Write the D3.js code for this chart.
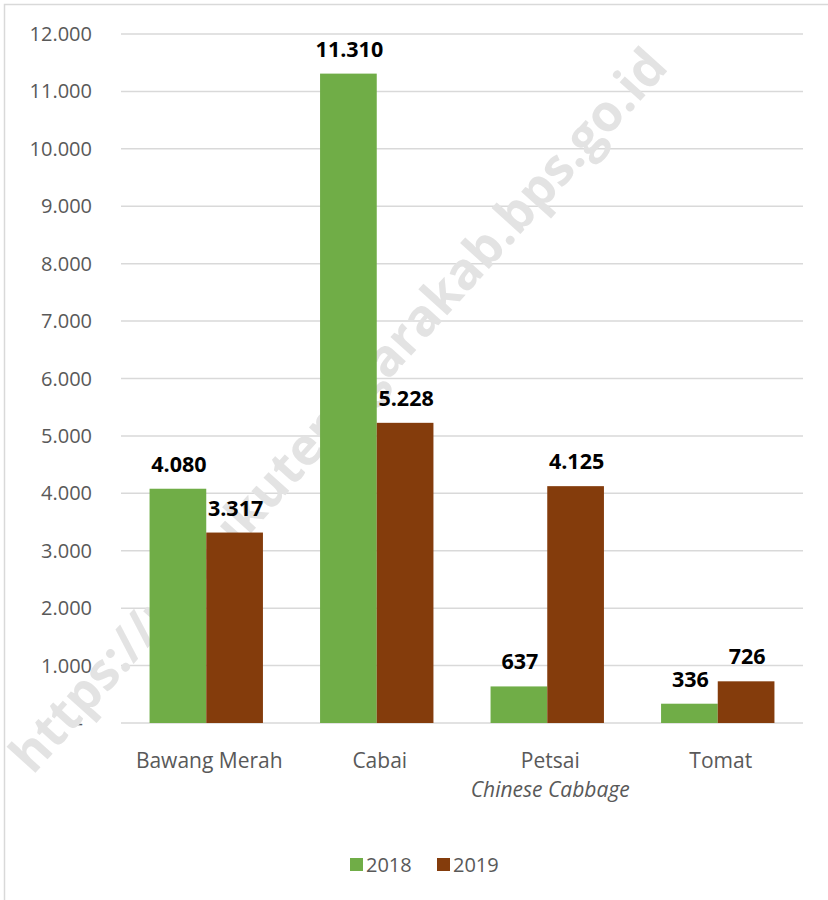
<!DOCTYPE html>
<html lang="en">
<head>
  <meta charset="UTF-8">
  <title>Produksi Sayuran 2018-2019</title>
  <style>
    body { margin: 0; background: #fff; }
    #chart { width: 828px; height: 900px; }
    text { font-family: "Open Sans", "Noto Sans", sans-serif; }
  </style>
  <script src="https://d3js.org/d3.v7.min.js"></script>
</head>
<body>
<div id="chart"></div>
<script>
  // Data
  var categories = ["Bawang Merah", "Cabai", "Petsai", "Tomat"];
  var subLabels = ["", "", "Chinese Cabbage", ""];
  var years = ["2018", "2019"];
  var values2018 = [4080, 11310, 637, 336];
  var values2019 = [3317, 5228, 4125, 726];
  var yTicks = [0, 1000, 2000, 3000, 4000, 5000, 6000, 7000, 8000, 9000, 10000, 11000, 12000];
  var colors = ["#70ad47", "#843c0c"];

  var width = 828, height = 900;
  var plotLeft = 121, plotRight = 803, plotTop = 34, plotBottom = 723;

  var idLocale = d3.formatLocale({decimal: ",", thousands: ".", grouping: [3], currency: ["Rp", ""]});
  var fmt = idLocale.format(",d");

  var x0 = d3.scaleBand().domain(categories).range([plotLeft, plotRight]).paddingInner(0.335).paddingOuter(0.1675);
  var x1 = d3.scaleBand().domain(years).range([0, x0.bandwidth()]);
  var y = d3.scaleLinear().domain([0, 12000]).range([plotBottom, plotTop]);

  var svg = d3.select("#chart").append("svg")
    .attr("width", width).attr("height", height);

  // outer frame
  svg.append("rect")
    .attr("x", 4.5).attr("y", 4.5)
    .attr("width", 900).attr("height", 950)
    .attr("fill", "none").attr("stroke", "#d9d9d9").attr("stroke-width", 1.5);

  // gridlines
  svg.append("g").selectAll("line").data(yTicks).join("line")
    .attr("x1", plotLeft).attr("x2", plotRight)
    .attr("y1", function(d) { return y(d); }).attr("y2", function(d) { return y(d); })
    .attr("stroke", "#d9d9d9").attr("stroke-width", 1.5);

  // y axis labels (zero shown as a dash, like accounting format)
  svg.append("g").selectAll("text").data(yTicks).join("text")
    .attr("x", function(d) { return d === 0 ? 83 : 92; })
    .attr("y", function(d) { return y(d); })
    .attr("dy", "0.35em")
    .attr("text-anchor", "end")
    .attr("font-size", 20).attr("fill", "#595959")
    .text(function(d) { return d === 0 ? "-" : fmt(d); });

  // watermark
  svg.append("text")
    .attr("transform", "translate(338,410) rotate(-48)")
    .attr("text-anchor", "middle").attr("dy", "0.35em")
    .attr("font-family", "'Liberation Sans', Arial, sans-serif")
    .attr("font-weight", "bold").attr("font-size", 51)
    .attr("fill", "#e3e3e3")
    .text("https://malukutenggarakab.bps.go.id");

  // bars
  var series = [values2018, values2019];
  var groups = svg.append("g").selectAll("g").data(categories).join("g")
    .attr("transform", function(d) { return "translate(" + x0(d) + ",0)"; });

  groups.selectAll("rect")
    .data(function(d, i) { return years.map(function(yr, j) { return {year: yr, value: series[j][i], j: j}; }); })
    .join("rect")
    .attr("x", function(d) { return x1(d.year); })
    .attr("width", x1.bandwidth())
    .attr("y", function(d) { return y(d.value); })
    .attr("height", function(d) { return y(0) - y(d.value); })
    .attr("fill", function(d) { return colors[d.j]; });

  groups.selectAll("text.val")
    .data(function(d, i) { return years.map(function(yr, j) { return {year: yr, value: series[j][i]}; }); })
    .join("text").attr("class", "val")
    .attr("x", function(d) { return x1(d.year) + x1.bandwidth() / 2 + 1; })
    .attr("y", function(d) { return y(d.value) - 17; })
    .attr("text-anchor", "middle")
    .attr("font-size", 21.5).attr("font-weight", "bold").attr("fill", "#000")
    .text(function(d) { return fmt(d.value); });

  // category labels
  svg.append("g").selectAll("text").data(categories).join("text")
    .attr("x", function(d) { return x0(d) + x0.bandwidth() / 2 + 3; })
    .attr("y", 768)
    .attr("text-anchor", "middle")
    .attr("font-size", 21).attr("fill", "#595959")
    .text(function(d) { return d; });

  svg.append("g").selectAll("text").data(categories).join("text")
    .attr("x", function(d) { return x0(d) + x0.bandwidth() / 2 + 3; })
    .attr("y", 797)
    .attr("text-anchor", "middle")
    .attr("font-size", 21).attr("font-style", "italic").attr("fill", "#595959")
    .text(function(d, i) { return subLabels[i]; });

  // legend
  var legend = svg.append("g").selectAll("g").data(years).join("g")
    .attr("transform", function(d, i) { return "translate(" + (350 + i * 87) + ",858)"; });
  legend.append("rect").attr("width", 13).attr("height", 13)
    .attr("fill", function(d, i) { return colors[i]; });
  legend.append("text").attr("x", 16).attr("y", 6.5).attr("dy", "0.35em")
    .attr("font-size", 20).attr("fill", "#595959")
    .text(function(d) { return d; });
</script>
</body>
</html>
